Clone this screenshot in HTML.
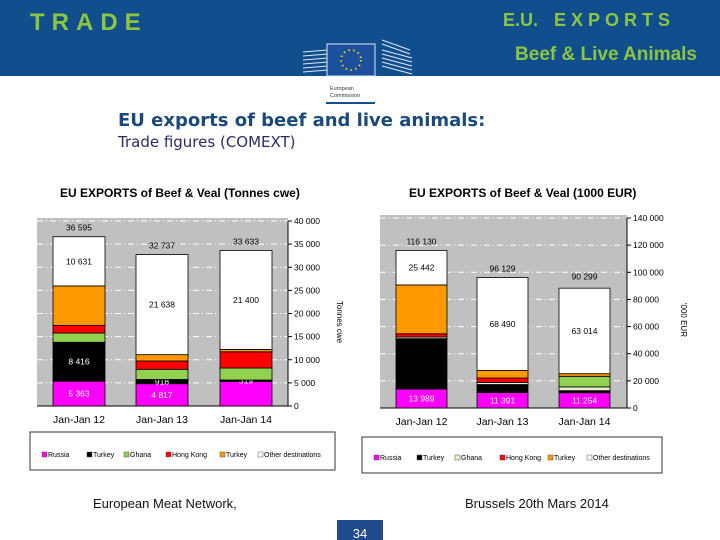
<!DOCTYPE html>
<html><head><meta charset="utf-8"><style>
html,body{margin:0;padding:0;background:#fff;}
svg{display:block;font-family:"Liberation Sans",Arial,sans-serif;}
</style></head><body>
<svg id="page" width="720" height="540" viewBox="0 0 720 540" xmlns="http://www.w3.org/2000/svg">
<rect x="0" y="0" width="720" height="76" fill="#114e8e"/>
<text x="30" y="30" font-size="24" font-weight="bold" fill="#8cc63e" letter-spacing="7">TRADE</text>
<text x="503" y="26" font-size="18" font-weight="bold" fill="#8cc63e">E.U.<tspan dx="16" letter-spacing="5">EXPORTS</tspan></text>
<text x="697" y="60" font-size="19" font-weight="bold" fill="#8cc63e" text-anchor="end">Beef &amp; Live Animals</text>
<g>
<g stroke="#dfe8f2" stroke-width="1">
<line x1="303" y1="52" x2="328" y2="50"/><line x1="303" y1="56" x2="328" y2="54"/><line x1="303" y1="60" x2="328" y2="58"/><line x1="303" y1="64" x2="328" y2="62"/><line x1="303" y1="68" x2="328" y2="66"/><line x1="303" y1="72" x2="328" y2="70"/>
<line x1="382" y1="50" x2="412" y2="58"/><line x1="382" y1="54" x2="412" y2="62"/><line x1="382" y1="58" x2="412" y2="66"/><line x1="382" y1="62" x2="412" y2="70"/><line x1="382" y1="66" x2="412" y2="74"/><line x1="382" y1="40" x2="410" y2="50"/><line x1="382" y1="44" x2="410" y2="54"/>
</g>
<rect x="327" y="44" width="48" height="32" fill="#1c4f9c" stroke="#dfe8f2" stroke-width="1"/>
<circle cx="351" cy="60" r="10" fill="none" stroke="#f4d000" stroke-width="2" stroke-dasharray="1.5 3.4"/>
<text x="330" y="90" font-size="5.5" fill="#333">European</text>
<text x="330" y="97" font-size="5.5" fill="#333">Commission</text>
<rect x="326" y="102" width="49" height="2" fill="#114e8e"/>
</g>
<text x="118" y="126" font-size="18" font-weight="bold" fill="#1a4a7c" font-family="DejaVu Sans, sans-serif">EU exports of beef and live animals:</text>
<text x="118" y="147" font-size="15" fill="#2a2a6a" font-family="DejaVu Sans, sans-serif">Trade figures (COMEXT)</text>

<text x="60" y="197" font-size="12" font-weight="bold" fill="#000">EU EXPORTS of Beef &amp; Veal (Tonnes cwe)</text>
<text x="409" y="197" font-size="12" font-weight="bold" fill="#000">EU EXPORTS of Beef &amp; Veal (1000 EUR)</text>
<g id="left-chart"></g>
<g id="right-chart"></g>

<rect x="30" y="432" width="305" height="38" fill="#fff" stroke="#333" stroke-width="1"/>
<rect x="362" y="437" width="300" height="36" fill="#fff" stroke="#333" stroke-width="1"/>
<g id="legends"></g>

<text x="93" y="508" font-size="13" fill="#111">European Meat Network,</text>
<text x="465" y="508" font-size="13" fill="#111">Brussels 20th Mars 2014</text>
<rect x="337" y="520" width="46" height="20" fill="#1f4b8e"/>
<text x="360" y="538" font-size="13" fill="#fff" text-anchor="middle">34</text>
</svg>
<script>
const categories = ["Jan-Jan 12", "Jan-Jan 13", "Jan-Jan 14"];
const seriesNames = ["Russia", "Turkey", "Ghana", "Hong Kong", "Turkey", "Other destinations"];
const leftRussia = [5363, 4817, 5300];
const leftTurkey = [8416, 918, 319];
const leftGhana = [2000, 2200, 2600];
const leftHongKong = [1660, 1800, 3500];
const leftTurkey2 = [8525, 1364, 514];
const leftOther = [10631, 21638, 21400];
const leftTotals = [36595, 32737, 33633];
const leftTicks = [0, 5000, 10000, 15000, 20000, 25000, 30000, 35000, 40000];
const rightRussia = [13989, 11391, 11254];
const rightTurkey = [37100, 5900, 1500];
const rightGhana = [1200, 1500, 2800];
const rightGreen = [0, 0, 7800];
const rightHongKong = [2400, 3300, 0];
const rightTurkey2 = [35999, 5548, 1931];
const rightOther = [25442, 68490, 63014];
const rightTotals = [116130, 96129, 90299];
const rightTicks = [0, 20000, 40000, 60000, 80000, 100000, 120000, 140000];

const NS = "http://www.w3.org/2000/svg";
function mk(tag, attrs, parent, txt){
  const e = document.createElementNS(NS, tag);
  for (const k in attrs) e.setAttribute(k, attrs[k]);
  if (txt !== undefined) e.textContent = txt;
  parent.appendChild(e);
  return e;
}
function fmt(v){ return String(v).replace(/\B(?=(\d{3})+(?!\d))/g, " "); }

function drawChart(g, cfg){
  const y = v => cfg.y0 - (v / cfg.max) * (cfg.y0 - cfg.yTop);
  const bg = mk("rect", {x: cfg.x0, y: cfg.bgTop, width: cfg.x1 - cfg.x0, height: cfg.y0 - cfg.bgTop, fill: "#c0c0c0"}, g);
  
  
  cfg.ticks.forEach(t => {
    if (t > 0 && cfg.grid) {
      const gl = mk("line", {x1: cfg.x0, x2: cfg.x1, y1: y(t), y2: y(t), stroke: "#fff", "stroke-width": 1, "stroke-dasharray": "6 3 1 3"}, g);
      
      
    }
    const tk = mk("line", {x1: cfg.x1, x2: cfg.x1 + 4, y1: y(t), y2: y(t), stroke: "#000"}, g);
    
    
    const tl = mk("text", {x: cfg.x1 + 6, y: y(t) + 3, "font-size": 8.5, fill: "#000"}, g, fmt(t));
    
    
  });
  const ax = mk("line", {x1: cfg.x1, x2: cfg.x1, y1: cfg.yTop, y2: cfg.y0, stroke: "#000"}, g);
  
  
  const xa = mk("line", {x1: cfg.x0, x2: cfg.x1, y1: cfg.y0, y2: cfg.y0, stroke: "#000"}, g);
  
  
  categories.forEach((c, i) => {
    const bx = cfg.barX[i];
    let acc = 0;
    cfg.series.forEach((s, si) => {
      const v = s[i];
      if (v <= 0) { return; }
      const r = mk("rect", {x: bx, y: y(acc + v), width: cfg.barW, height: y(acc) - y(acc + v), fill: cfg.colors[si], stroke: "#000", "stroke-width": 0.8}, g);
      
      
      if (cfg.labels[si] && cfg.labels[si][i]) {
        const mid = (y(acc) + y(acc + v)) / 2;
        const lt = mk("text", {x: bx + cfg.barW / 2, y: mid + 3, "font-size": 8.5, "text-anchor": "middle", fill: cfg.labelColors[si]}, g, fmt(v));
        
        
      }
      acc += v;
    });
    const tt = mk("text", {x: bx + cfg.barW / 2, y: y(cfg.totals[i]) - 6, "font-size": 8.5, "text-anchor": "middle", fill: "#000"}, g, fmt(cfg.totals[i]));
    
    
    const cl = mk("text", {x: bx + cfg.barW / 2, y: cfg.y0 + 17, "font-size": 10.5, "text-anchor": "middle", fill: "#000"}, g, c);
    
    
  });
  const at = mk("text", {x: 0, y: 0, "font-size": 8, fill: "#000", "text-anchor": "middle", transform: "translate(" + cfg.axisTitleX + "," + cfg.axisTitleY + ") rotate(90)"}, g, cfg.axisTitle);
  
  
}

const leftColors = ["#ff00ff", "#000000", "#92d050", "#ff0000", "#ff9900", "#ffffff"];
drawChart(document.getElementById("left-chart"), {
  x0: 37, x1: 288, yTop: 221, bgTop: 218, y0: 406, max: 40000, ticks: leftTicks, grid: true,
  barX: [53, 136, 220], barW: 52,
  series: [leftRussia, leftTurkey, leftGhana, leftHongKong, leftTurkey2, leftOther],
  colors: leftColors,
  labels: [[1,1,0],[1,1,1],null,null,null,[1,1,1]],
  labelColors: ["#fff","#fff","#000","#000","#000","#000"],
  totals: leftTotals, axisTitle: "Tonnes cwe", axisTitleX: 337, axisTitleY: 322
});
drawChart(document.getElementById("right-chart"), {
  x0: 380, x1: 627, yTop: 218, bgTop: 215, y0: 408, max: 140000, ticks: rightTicks, grid: true,
  barX: [396, 477, 559], barW: 51,
  series: [rightRussia, rightTurkey, rightGhana, rightGreen, rightHongKong, rightTurkey2, rightOther],
  colors: ["#ff00ff", "#000000", "#e8f0d0", "#92d050", "#ff0000", "#ff9900", "#ffffff"],
  labels: [[1,1,1],null,null,null,null,null,[1,1,1]],
  labelColors: ["#fff","#fff","#000","#000","#000","#000","#000"],
  totals: rightTotals, axisTitle: "'000 EUR", axisTitleX: 681, axisTitleY: 320
});

const legendG = document.getElementById("legends");
const legLeftX = [42, 87, 124, 166, 220, 258];
const legRightX = [374, 417, 455, 500, 548, 587];
const rightLegColors = ["#ff00ff", "#000000", "#e8f0d0", "#ff0000", "#ff9900", "#ffffff"];
function legend(xs, yy, cols){
  seriesNames.forEach((n, i) => {
    const sw = mk("rect", {x: xs[i], y: yy - 5, width: 5, height: 5, fill: cols[i], stroke: "#555", "stroke-width": 0.5}, legendG);
    
    
    const lt = mk("text", {x: xs[i] + 6, y: yy, "font-size": 7, fill: "#000"}, legendG, n);
    
    
  });
}
legend(legLeftX, 457, leftColors);
legend(legRightX, 460, rightLegColors);
</script>
</body></html>
